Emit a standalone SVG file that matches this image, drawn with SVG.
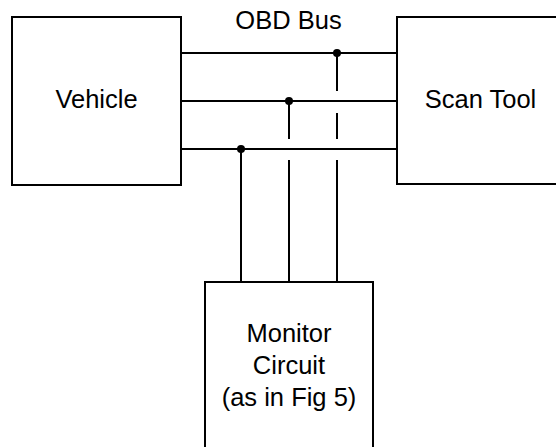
<svg xmlns="http://www.w3.org/2000/svg" width="556" height="447" viewBox="0 0 556 447">
<style>
.box{fill:#fff;stroke:#000;stroke-width:2}
.w{stroke:#000;stroke-width:2;fill:none}
.t{font-family:"Liberation Sans",Arial,sans-serif;font-size:25.5px;fill:#000;text-anchor:middle}
</style>
<rect width="556" height="447" fill="#fff"/>
<g id="vehicle">
<rect class="box" x="12" y="17" width="169" height="168"/>
<text class="t" x="96.5" y="108">Vehicle</text>
</g>
<g id="scan-tool">
<rect class="box" x="397" y="17" width="170" height="167"/>
<text class="t" x="480.5" y="108">Scan Tool</text>
</g>
<g id="monitor">
<rect class="box" x="205" y="282" width="168" height="180"/>
<text class="t" x="289" y="342">Monitor</text>
<text class="t" x="289" y="374">Circuit</text>
<text class="t" x="289" y="406">(as in Fig 5)</text>
</g>
<g id="bus-label">
<text class="t" x="288.5" y="29">OBD Bus</text>
</g>
<g id="connectors">
<line class="w" x1="181" y1="53" x2="397" y2="53"/>
<line class="w" x1="181" y1="101" x2="397" y2="101"/>
<line class="w" x1="181" y1="149" x2="397" y2="149"/>
<line class="w" x1="241" y1="149" x2="241" y2="282"/>
<path class="w" d="M289 101V139M289 160V282"/>
<path class="w" d="M337 53V91M337 113V139M337 160V282"/>
<circle cx="337" cy="53" r="4"/>
<circle cx="289" cy="101" r="4"/>
<circle cx="241" cy="149" r="4"/>
</g>
</svg>
